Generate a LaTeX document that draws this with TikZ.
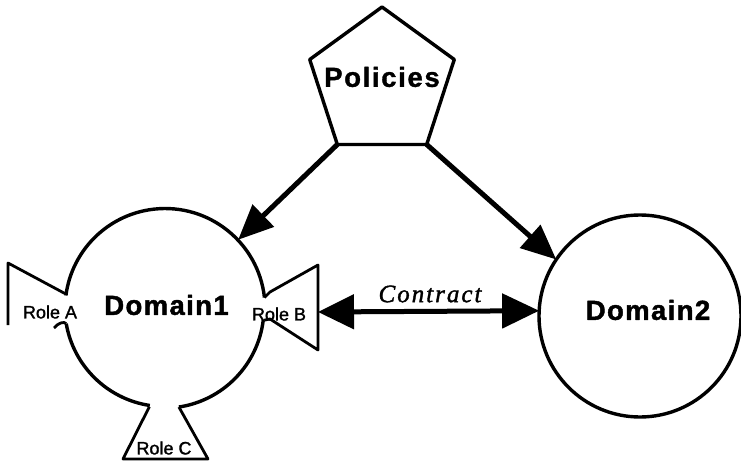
\documentclass[tikz,border=0pt]{standalone}
\usepackage{fontspec}
\setmainfont{Liberation Sans}
\newfontfamily\contractfont{Liberation Serif}
\usetikzlibrary{arrows.meta}
\begin{document}
\begin{tikzpicture}[x=1pt, y=-1pt, line join=round,
  outline/.style={line width=3.4pt},
  rolebox/.style={line width=2.8pt},
  flow/.style={line width=5pt, -{Triangle[length=35pt,width=30pt]}},
  contract/.style={line width=5pt,
    {Triangle[length=36pt,width=34pt]}-{Triangle[length=37pt,width=34pt]}},
  domainlabel/.style={inner sep=0pt,
    font=\fontsize{27.5}{30}\selectfont\bfseries\addfontfeature{LetterSpace=5,FakeBold=1.6}},
  policylabel/.style={inner sep=0pt,
    font=\fontsize{27.5}{30}\selectfont\bfseries\addfontfeature{LetterSpace=6,FakeBold=1.2}},
  rolelabel/.style={inner sep=0pt,
    font=\fontsize{18}{20}\selectfont\addfontfeature{FakeBold=1.5}},
  contractlabel/.style={inner sep=0pt,
    font=\contractfont\itshape\fontsize{25}{28}\selectfont\addfontfeature{LetterSpace=8,FakeBold=1.5}},
  ring/.style={circle, inner sep=0pt, outer sep=0pt}
]
\useasboundingbox (0,0) rectangle (741,462);

% Policies pentagon
\coordinate (pc) at (382,83);
\coordinate (p1) at ([shift={(90:76pt)}]pc);
\coordinate (p2) at ([shift={(162:76pt)}]pc);
\coordinate (p3) at ([shift={(234:76pt)}]pc);
\coordinate (p4) at ([shift={(306:76pt)}]pc);
\coordinate (p5) at ([shift={(18:76pt)}]pc);
\draw[outline] (p1) -- (p2) -- (p3) -- (p4) -- (p5) -- cycle;
\node[policylabel] (policies) at (382,77) {Policies};

% Domain1 with its three role openings
\node[ring, minimum size=200pt] (d1) at (165,308) {};
\node[domainlabel] (d1label) at (166.5,305) {Domain1};
\draw[outline] (d1.6.3) arc[start angle=6.3, end angle=172.5, radius=100pt];
\draw[outline] (d1.189.8) arc[start angle=189.8, end angle=261.4, radius=100pt];
\draw[outline] (d1.278.6) arc[start angle=278.6, end angle=353.1, radius=100pt];

% Role A
\draw[rolebox] (8,325) -- (8,263) -- (d1.172.5);
\draw[rolebox] (54,328) .. controls (58,323) and (64,321) .. (d1.189.8);
\node[rolelabel] (roleA) at (50,312) {Role A};

% Role B
\coordinate (rbR) at (318,312);
\draw[rolebox] (d1.6.3) -- (270,292) -- (318,265) -- (318,350) -- (270,319) -- (d1.353.1);
\node[rolelabel] (roleB) at (279,314) {Role B};

% Role C
\draw[rolebox] (d1.261.4) -- (123,459) -- (208,459) -- (d1.278.6);
\node[rolelabel] (roleC) at (164,448) {Role C};

% Domain2
\node[ring, minimum size=202pt, draw, outline] (d2) at (640,316) {};
\node[domainlabel] (d2label) at (648,310) {Domain2};

% Policy flows
\draw[flow] (p3) -- (d1.43.8);
\draw[flow] (p4) -- (d2.146);

% Contract between the domains
\draw[contract] (rbR) -- (d2.177.7);
\node[contractlabel] (contract) at (430,294) {Contract};
\end{tikzpicture}
\end{document}
